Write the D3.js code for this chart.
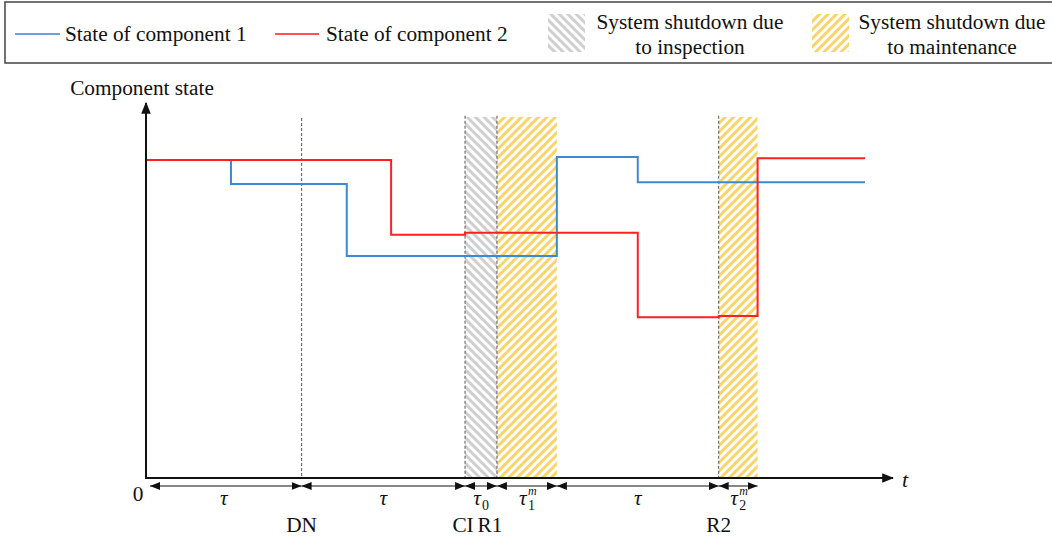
<!DOCTYPE html>
<html>
<head>
<meta charset="utf-8">
<script src="https://cdn.jsdelivr.net/npm/d3@7"></script>
<style>
  body { margin: 0; background: #fff; }
</style>
</head>
<body>
<div id="chart"></div>
<script>
// step data: time at which each state starts, and the state value
const comp1Times = [0, 0.546, 1.29, 2.64, 3.16, 4.62];
const comp1States = [84.8, 78.4, 59.2, 85.6, 78.9, 78.9];
const comp2Times = [0, 1.575, 2.05, 3.16, 3.68, 3.93, 4.62];
const comp2States = [84.8, 64.9, 65.4, 42.9, 43.2, 85.3, 85.3];

// shutdown windows
const shutStart = [2.05, 2.255, 3.68];
const shutEnd = [2.255, 2.64, 3.93];
const shutKind = ["inspection", "maintenance", "maintenance"];

// dimension intervals under the axis
const intStart = [0, 1.0, 2.05, 2.255, 2.64, 3.68];
const intEnd = [1.0, 2.05, 2.255, 2.64, 3.68, 3.93];
const intSub = ["", "", "0", "1", "", "2"];
const intSup = ["", "", "", "m", "", "m"];

// event markers
const eventTimes = [1.0, 2.05, 2.255, 3.68];
const eventNames = ["DN", "CI", "R1", "R2"];
const eventShift = [0, -2, -7, 0];

const width = 1052, height = 543;
const fs = 21.3;
const svg = d3.select("#chart").append("svg")
  .attr("width", width).attr("height", height)
  .attr("font-family", "'Liberation Serif', 'Times New Roman', Times, serif")
  .attr("fill", "#111");

const x = d3.scaleLinear().domain([0, 4.8]).range([146, 893]);
const y = d3.scaleLinear().domain([0, 100]).range([478, 103]);

const defs = svg.append("defs");
function hatch(id, color, angle) {
  const p = defs.append("pattern")
    .attr("id", id)
    .attr("patternUnits", "userSpaceOnUse")
    .attr("width", 6).attr("height", 6)
    .attr("patternTransform", `rotate(${angle})`);
  p.append("rect").attr("width", 3).attr("height", 6).attr("fill", color);
}
hatch("hatch-insp", "#cfcfcf", -45);
hatch("hatch-maint", "#f8d56b", 45);
defs.append("marker")
  .attr("id", "arr")
  .attr("viewBox", "0 0 10 10")
  .attr("refX", 10).attr("refY", 5)
  .attr("markerWidth", 10).attr("markerHeight", 10)
  .attr("markerUnits", "userSpaceOnUse")
  .attr("orient", "auto-start-reverse")
  .append("path").attr("d", "M0,1L10,5L0,9Z").attr("fill", "#111");
defs.append("marker")
  .attr("id", "axarr")
  .attr("viewBox", "0 0 10 10")
  .attr("refX", 9).attr("refY", 5)
  .attr("markerWidth", 12).attr("markerHeight", 12)
  .attr("markerUnits", "userSpaceOnUse")
  .attr("orient", "auto")
  .append("path").attr("d", "M0,1L10,5L0,9Z").attr("fill", "#111");

// legend box
const lg = svg.append("g").attr("font-size", fs);
lg.append("rect").attr("x", 5).attr("y", 2).attr("width", 1070).attr("height", 61)
  .attr("fill", "none").attr("stroke", "#444").attr("stroke-width", 1.5);
lg.append("line").attr("x1", 15).attr("x2", 60).attr("y1", 34).attr("y2", 34)
  .attr("stroke", "#3b82d0").attr("stroke-width", 1.5);
lg.append("text").attr("x", 65).attr("y", 41).text("State of component 1");
lg.append("line").attr("x1", 275).attr("x2", 319).attr("y1", 34).attr("y2", 34)
  .attr("stroke", "#ff1a1a").attr("stroke-width", 1.5);
lg.append("text").attr("x", 326).attr("y", 41).text("State of component 2");
lg.append("rect").attr("x", 548).attr("y", 14).attr("width", 37).attr("height", 38)
  .attr("fill", "url(#hatch-insp)");
lg.append("text").attr("x", 690).attr("y", 29)
  .attr("text-anchor", "middle").text("System shutdown due");
lg.append("text").attr("x", 690).attr("y", 54)
  .attr("text-anchor", "middle").text("to inspection");
lg.append("rect").attr("x", 812).attr("y", 14).attr("width", 37).attr("height", 38)
  .attr("fill", "url(#hatch-maint)");
lg.append("text").attr("x", 952).attr("y", 29)
  .attr("text-anchor", "middle").text("System shutdown due");
lg.append("text").attr("x", 952).attr("y", 54)
  .attr("text-anchor", "middle").text("to maintenance");

// shutdown hatched regions
svg.selectAll(".shut")
  .data(shutStart.map((s, i) => ({ s, e: shutEnd[i], k: shutKind[i] })))
  .enter().append("rect")
  .attr("x", d => x(d.s))
  .attr("width", d => x(d.e) - x(d.s))
  .attr("y", y(96.3))
  .attr("height", d => y(0) - y(96.3))
  .attr("fill", d => d.k === "inspection" ? "url(#hatch-insp)" : "url(#hatch-maint)");

// dashed event lines
svg.selectAll(".evline")
  .data(eventTimes)
  .enter().append("line")
  .attr("x1", d => x(d)).attr("x2", d => x(d))
  .attr("y1", (d, i) => i === 0 ? y(96) : y(96.6)).attr("y2", y(0))
  .attr("stroke", "#555").attr("stroke-width", 1)
  .attr("stroke-dasharray", "3,2");

// state lines
const line = d3.line().x(d => x(d[0])).y(d => y(d[1])).curve(d3.curveStepAfter);
svg.append("path")
  .attr("d", line(comp1Times.map((t, i) => [t, comp1States[i]])))
  .attr("fill", "none").attr("stroke", "#3a8ad3").attr("stroke-width", 2);
svg.append("path")
  .attr("d", line(comp2Times.map((t, i) => [t, comp2States[i]])))
  .attr("fill", "none").attr("stroke", "#ff2020").attr("stroke-width", 2);

// axes
svg.append("line").attr("x1", x(0)).attr("x2", x(0)).attr("y1", y(0) + 1).attr("y2", y(100))
  .attr("stroke", "#111").attr("stroke-width", 2).attr("marker-end", "url(#axarr)");
svg.append("line").attr("x1", x(0) - 1).attr("x2", x(4.8)).attr("y1", y(0)).attr("y2", y(0))
  .attr("stroke", "#111").attr("stroke-width", 2).attr("marker-end", "url(#axarr)");
svg.append("text").attr("x", 142).attr("y", 95).attr("font-size", fs)
  .attr("text-anchor", "middle").text("Component state");
svg.append("text").attr("x", 905).attr("y", 487).attr("font-size", 22)
  .attr("font-style", "italic").attr("text-anchor", "middle").text("t");
svg.append("text").attr("x", 138).attr("y", 501).attr("font-size", fs)
  .attr("text-anchor", "middle").text("0");

// dimension arrows
const dimY = 486;
const ints = intStart.map((s, i) => ({ s, e: intEnd[i], sub: intSub[i], sup: intSup[i] }));
svg.selectAll(".dim")
  .data(ints)
  .enter().append("line")
  .attr("x1", d => x(d.s) + (d.s === 0 ? 4 : 0)).attr("x2", d => x(d.e))
  .attr("y1", dimY).attr("y2", dimY)
  .attr("stroke", "#111").attr("stroke-width", 1)
  .attr("marker-start", "url(#arr)").attr("marker-end", "url(#arr)");
const lbl = svg.selectAll(".dimlbl")
  .data(ints)
  .enter().append("g")
  .attr("transform", d => `translate(${(x(d.s) + x(d.e)) / 2},0)`);
lbl.append("text")
  .attr("x", d => d.sub ? -4 : 0).attr("y", 505)
  .attr("font-size", fs).attr("font-style", "italic")
  .attr("text-anchor", "middle").text("τ");
lbl.filter(d => d.sub).append("text")
  .attr("x", 1).attr("y", 510).attr("font-size", 14).text(d => d.sub);
lbl.filter(d => d.sup).append("text")
  .attr("x", 1).attr("y", 495).attr("font-size", 12).attr("font-style", "italic").text(d => d.sup);

// event names
svg.selectAll(".evname")
  .data(eventTimes)
  .enter().append("text")
  .attr("x", (d, i) => x(d) + eventShift[i]).attr("y", 532)
  .attr("font-size", fs).attr("text-anchor", "middle")
  .text((d, i) => eventNames[i]);
</script>
</body>
</html>
